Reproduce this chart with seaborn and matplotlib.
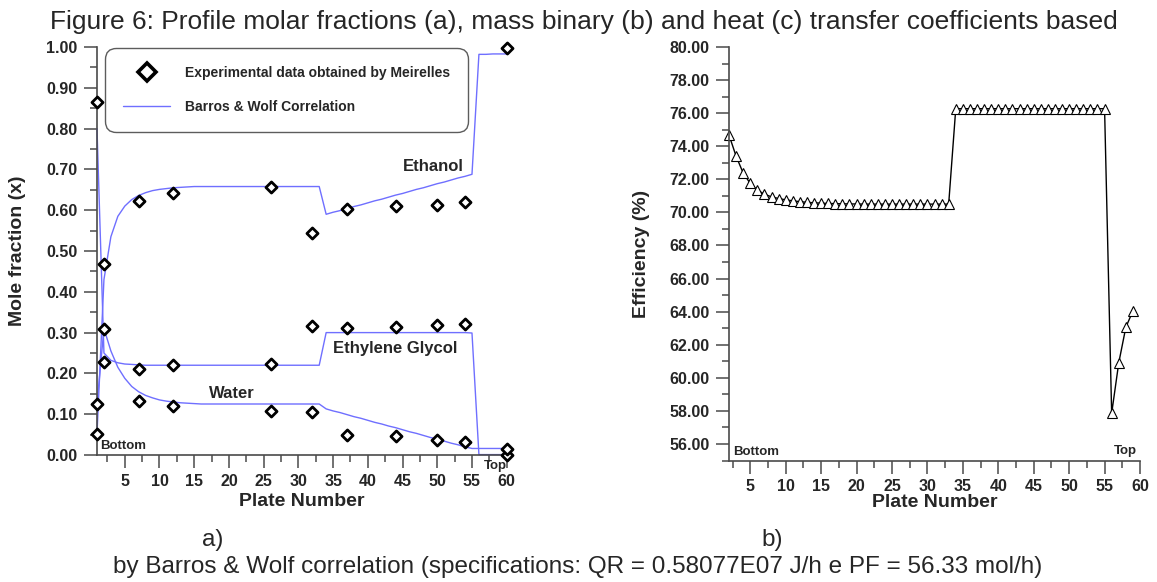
import numpy as np
import pandas as pd
import matplotlib
matplotlib.use("Agg")
import matplotlib.pyplot as plt
from matplotlib.lines import Line2D
from matplotlib.ticker import MultipleLocator, FormatStrFormatter
import seaborn as sns

# ---------------- data ----------------
plates_corr = list(range(1, 61))
ethanol_corr = [0.052, 0.43, 0.535, 0.585, 0.610, 0.626, 0.636, 0.643, 0.648, 0.651,
                0.653, 0.655, 0.656, 0.657, 0.658, 0.658, 0.658, 0.658, 0.658, 0.658,
                0.658, 0.658, 0.658, 0.658, 0.658, 0.658, 0.658, 0.658, 0.658, 0.658,
                0.658, 0.658, 0.658, 0.590, 0.595, 0.599, 0.604, 0.609, 0.613, 0.618,
                0.623, 0.627, 0.632, 0.637, 0.641, 0.646, 0.651, 0.655, 0.660, 0.665,
                0.669, 0.674, 0.679, 0.683, 0.688, 0.982, 0.982, 0.983, 0.983, 0.983]
glycol_corr = [0.800, 0.250, 0.232, 0.226, 0.223, 0.222, 0.221, 0.220, 0.220, 0.220,
               0.220, 0.220, 0.220, 0.220, 0.220, 0.220, 0.220, 0.220, 0.220, 0.220,
               0.220, 0.220, 0.220, 0.220, 0.220, 0.220, 0.220, 0.220, 0.220, 0.220,
               0.220, 0.220, 0.220, 0.300, 0.300, 0.300, 0.300, 0.300, 0.300, 0.300,
               0.300, 0.300, 0.300, 0.300, 0.300, 0.300, 0.300, 0.300, 0.300, 0.300,
               0.300, 0.300, 0.300, 0.300, 0.299, 0.001, 0.001, 0.001, 0.001, 0.001]
water_corr = [0.125, 0.310, 0.255, 0.215, 0.188, 0.168, 0.155, 0.146, 0.140, 0.135,
              0.132, 0.130, 0.128, 0.127, 0.126, 0.125, 0.125, 0.125, 0.125, 0.125,
              0.125, 0.125, 0.125, 0.125, 0.125, 0.125, 0.125, 0.125, 0.125, 0.125,
              0.125, 0.125, 0.125, 0.113, 0.108, 0.104, 0.099, 0.094, 0.090, 0.085,
              0.080, 0.076, 0.071, 0.067, 0.062, 0.057, 0.053, 0.048, 0.043, 0.039,
              0.034, 0.029, 0.025, 0.020, 0.016, 0.016, 0.016, 0.016, 0.016, 0.016]

plates_exp = [1, 2, 7, 12, 26, 32, 37, 44, 50, 54, 60]
ethanol_exp = [0.052, 0.467, 0.623, 0.643, 0.658, 0.543, 0.603, 0.610, 0.613, 0.620, 0.997]
glycol_exp = [0.865, 0.227, 0.210, 0.220, 0.223, 0.317, 0.311, 0.313, 0.319, 0.321, 0.000]
water_exp = [0.125, 0.310, 0.132, 0.119, 0.109, 0.105, 0.049, 0.047, 0.036, 0.033, 0.014]

plates_eff = list(range(2, 60))
efficiency = [74.68, 73.40, 72.38, 71.75, 71.35, 71.10, 70.94, 70.84, 70.76, 70.70,
              70.65, 70.61, 70.58, 70.56, 70.54, 70.53, 70.52, 70.51, 70.51, 70.50,
              70.50, 70.50, 70.50, 70.50, 70.50, 70.50, 70.50, 70.50, 70.50, 70.50,
              70.50, 70.50,
              76.27, 76.27, 76.27, 76.27, 76.27, 76.27, 76.27, 76.27, 76.27, 76.27,
              76.27, 76.27, 76.27, 76.27, 76.27, 76.27, 76.27, 76.27, 76.27, 76.27,
              76.27, 76.27,
              57.85, 60.90, 63.05, 64.05]

title_text = "Figure 6: Profile molar fractions (a), mass binary (b) and heat (c) transfer coefficients based"
caption_text = "by Barros & Wolf correlation (specifications: QR = 0.58077E07 J/h e PF = 56.33 mol/h)"

# ---------------- style ----------------
sns.set_style("ticks")
plt.rcParams['font.family'] = ['Liberation Sans', 'DejaVu Sans']

W, H = 1157, 582
fig = plt.figure(figsize=(W / 100, H / 100), dpi=100)

def ax_rect(x0, x1, y_top, y_bot):
    return [x0 / W, (H - y_bot) / H, (x1 - x0) / W, (y_bot - y_top) / H]

axA = fig.add_axes(ax_rect(97, 506.7, 47, 455))
axB = fig.add_axes(ax_rect(729, 1140, 47, 460.5))

blue = '#6f6fff'
spine_c = '#4a4a4a'

# ---------------- panel a ----------------
df_corr = pd.DataFrame({'plate': plates_corr, 'Ethanol': ethanol_corr,
                        'Glycol': glycol_corr, 'Water': water_corr})
for comp in ['Ethanol', 'Glycol', 'Water']:
    sns.lineplot(data=df_corr, x='plate', y=comp, ax=axA, color=blue, lw=1.0,
                 sort=False, estimator=None, legend=False, clip_on=False)

df_exp = pd.DataFrame({'plate': plates_exp * 3,
                       'x': ethanol_exp + glycol_exp + water_exp})
sns.scatterplot(data=df_exp, x='plate', y='x', ax=axA, marker='D', s=32,
                color='white', edgecolor='black', linewidth=2.0, zorder=5,
                legend=False, clip_on=False)

axA.set_xlim(1, 60)
axA.set_ylim(0, 1.0)

# legend
h1 = Line2D([], [], marker='D', ls='none', markersize=9, markerfacecolor='white',
            markeredgecolor='black', markeredgewidth=2.6)
h2 = Line2D([], [], color=blue, lw=1.0)
leg = axA.legend([h1, h2], ['Experimental data obtained by Meirelles',
                            'Barros & Wolf Correlation'],
                 loc='upper left', bbox_to_anchor=(0.0195, 0.9975),
                 frameon=True, fancybox=True, handlelength=3.4, handletextpad=1.05,
                 labelspacing=1.45, borderpad=1.3, borderaxespad=0,
                 prop={'family': ['Liberation Sans'],
                       'weight': 'bold', 'size': 10})
frame = leg.get_frame()
frame.set_edgecolor('#333333')
frame.set_linewidth(1.0)
frame.set_boxstyle('round,pad=0,rounding_size=0.8')

# component labels
lab_kw = dict(fontsize=12, fontweight='bold', ha='center', va='center')
axA.text(49.5, 0.708, 'Ethanol', **lab_kw)
axA.text(44.0, 0.262, 'Ethylene Glycol', **lab_kw)
axA.text(20.4, 0.151, 'Water', **lab_kw)
axA.text(1.45, 0.021, 'Bottom', fontsize=9.5, fontweight='bold', ha='left', va='center')
axA.text(58.3, -0.026, 'Top', fontsize=9.5, fontweight='bold', ha='center',
         va='center', clip_on=False)

axA.set_ylabel('Mole fraction (x)', fontsize=14, fontweight='bold')
axA.set_xlabel('Plate Number', fontsize=14, fontweight='bold')
axA.yaxis.set_label_coords(-0.193, 0.5)
axA.xaxis.set_label_coords(0.5, -0.115)
axA.xaxis.label.set_va('center')
axA.yaxis.label.set_va('center')

axA.yaxis.set_major_locator(MultipleLocator(0.1))
axA.yaxis.set_minor_locator(MultipleLocator(0.05))
axA.yaxis.set_major_formatter(FormatStrFormatter('%.2f'))

# ---------------- panel b ----------------
df_eff = pd.DataFrame({'plate': plates_eff, 'eff': efficiency})
sns.lineplot(data=df_eff, x='plate', y='eff', ax=axB, color='black', lw=1.0,
             marker='^', markersize=7, markerfacecolor='white',
             markeredgecolor='black', markeredgewidth=0.8, sort=False,
             estimator=None, legend=False, clip_on=False)
axB.set_xlim(2, 60)
axB.set_ylim(55, 80)
axB.yaxis.set_major_locator(MultipleLocator(2))
axB.yaxis.set_minor_locator(MultipleLocator(1))
axB.yaxis.set_major_formatter(FormatStrFormatter('%.2f'))
axB.text(2.6, 55.53, 'Bottom', fontsize=9.5, fontweight='bold', ha='left', va='center')
axB.text(58.0, 55.6, 'Top', fontsize=9.5, fontweight='bold', ha='center', va='center')
axB.set_ylabel('Efficiency (%)', fontsize=14, fontweight='bold')
axB.set_xlabel('Plate Number', fontsize=14, fontweight='bold')
axB.yaxis.set_label_coords(-0.2117, 0.5)
axB.xaxis.set_label_coords(0.5, -0.1004)
axB.xaxis.label.set_va('center')
axB.yaxis.label.set_va('center')

for ax in (axA, axB):
    ax.set_xticks([5, 10, 15, 20, 25, 30, 35, 40, 45, 50, 55, 60])
    ax.set_xticks([2.5, 7.5, 12.5, 17.5, 22.5, 27.5, 32.5, 37.5, 42.5, 47.5, 52.5, 57.5],
                  minor=True)
    ax.set_xticklabels([str(v) for v in range(5, 61, 5)])
    ax.spines['top'].set_visible(False)
    ax.spines['right'].set_visible(False)
    for s in ('left', 'bottom'):
        ax.spines[s].set_color(spine_c)
        ax.spines[s].set_linewidth(1.2)
    ax.tick_params(which='major', direction='out', length=9.5, width=1.1,
                   color=spine_c, labelsize=11.5, pad=4)
    ax.tick_params(which='minor', direction='out', length=5, width=1.1, color=spine_c)
    ax.tick_params(axis='y', which='major', pad=4.5)
    for lbl in ax.get_xticklabels() + ax.get_yticklabels():
        lbl.set_fontweight('bold')
    ax.set_facecolor('white')

# ---------------- figure texts ----------------
fig.text(584 / W, 1 - 29 / H, title_text, fontsize=19, ha='center', va='baseline')
fig.text(578 / W, 1 - 567 / H, caption_text, fontsize=17.5, ha='center', va='center')
fig.text(213 / W, 1 - 540 / H, 'a)', fontsize=17.5, ha='center', va='center')
fig.text(772 / W, 1 - 540 / H, 'b)', fontsize=17.5, ha='center', va='center')

fig.savefig('out.png', dpi=100, facecolor='white')
